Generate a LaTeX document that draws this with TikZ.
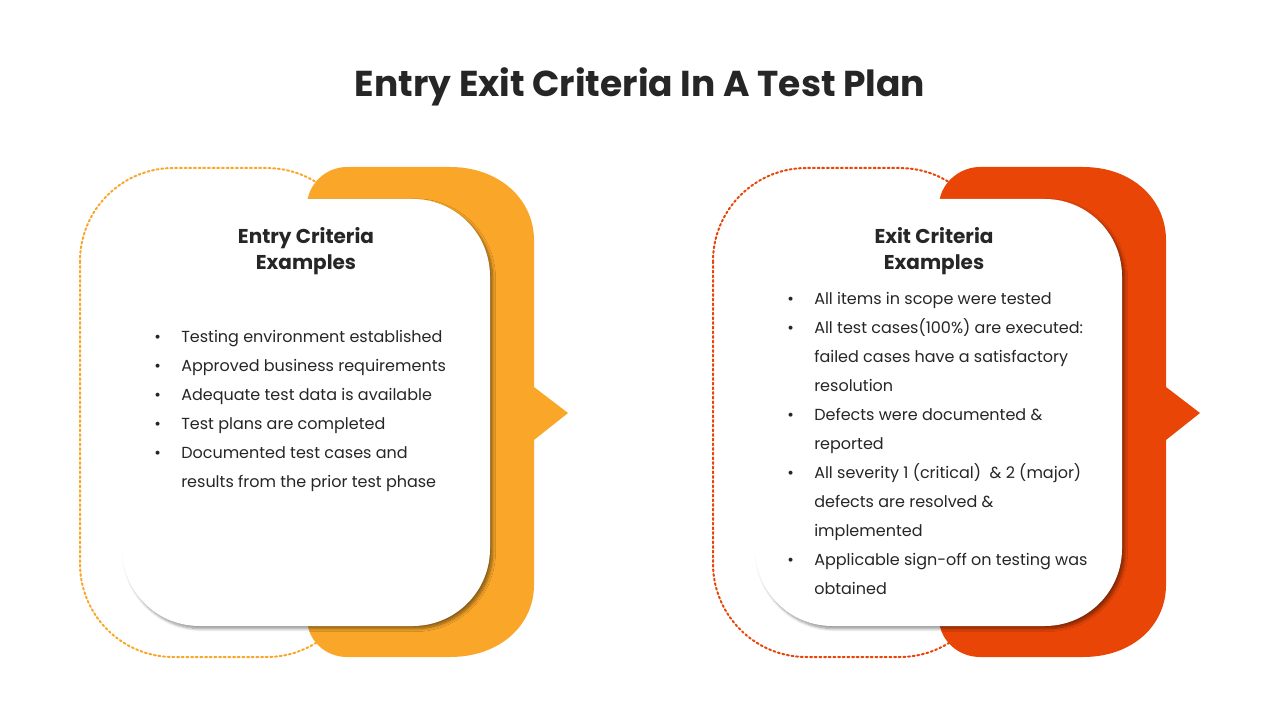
\documentclass[tikz,border=0pt]{standalone}
\usepackage{fontspec}
\setmainfont{Poppins}
\usetikzlibrary{shadows.blur}
\definecolor{entryorange}{RGB}{250,167,41}
\definecolor{exitred}{RGB}{232,69,7}
\definecolor{inktext}{RGB}{38,38,38}
\tikzset{
  card/.style={fill=white, rounded corners=58, blur shadow={shadow xshift=2pt, shadow yshift=-2pt, shadow blur steps=8, shadow opacity=45}},
  dotline/.style={line width=1.5pt, dotted, line cap=round, rounded corners=70},
  headtext/.style={font=\fontsize{15}{19.5}\selectfont\bfseries, text=inktext, align=center},
  listtext/.style={font=\fontsize{12}{21.75}\selectfont, text=inktext, align=left, anchor=north west, inner sep=0pt}
}
\newcommand{\bitem}[1]{\makebox[20.25pt][l]{\textbullet}#1\\}
\newcommand{\bcont}[1]{\hspace*{20.25pt}#1\\}
\begin{document}
\begin{tikzpicture}[x=0.75pt,y=-0.75pt]
\useasboundingbox (0,0) rectangle (1280,720);

% Title
\node[font=\fontsize{27}{32}\selectfont\bfseries, text=inktext] (title) at (640,87) {Entry Exit Criteria In A Test Plan};

% Entry panel
\draw[entryorange, dotline] (80,168) rectangle (360,657);
\fill[entryorange] (347,167) -- (450,167) .. controls (500,167) and (534,200) .. (534,240) -- (534,387) -- (568,413) -- (534,440) -- (534,585) .. controls (534,625) and (500,657) .. (450,657) -- (347,657) .. controls (325,657) and (307,640) .. (307,618) -- (307,206) .. controls (307,185) and (325,167) .. (347,167) -- cycle;
\path[card] (122,199) rectangle (490,626);
\node[headtext] (entryhead) at (306,251) {Entry Criteria\\Examples};
\node[listtext] (entrylist) at (154,330) {%
\bitem{Testing environment established}
\bitem{Approved business requirements}
\bitem{Adequate test data is available}
\bitem{Test plans are completed}
\bitem{Documented test cases and}
\bcont{results from the prior test phase}};

% Exit panel
\draw[exitred, dotline] (713,168) rectangle (993,657);
\fill[exitred] (980,167) -- (1083,167) .. controls (1133,167) and (1166,200) .. (1166,240) -- (1166,387) -- (1200,413) -- (1166,440) -- (1166,585) .. controls (1166,625) and (1133,657) .. (1083,657) -- (980,657) .. controls (958,657) and (939,640) .. (939,618) -- (939,206) .. controls (939,185) and (958,167) .. (980,167) -- cycle;
\path[card] (755,199) rectangle (1122,626);
\node[headtext] (exithead) at (934,251) {Exit Criteria\\Examples};
\node[listtext] (exitlist) at (787,292) {%
\bitem{All items in scope were tested}
\bitem{All test cases(100\%) are executed:}
\bcont{failed cases have a satisfactory}
\bcont{resolution}
\bitem{Defects were documented \&}
\bcont{reported}
\bitem{All severity 1 (critical)\ \ \& 2 (major)}
\bcont{defects are resolved \&}
\bcont{implemented}
\bitem{Applicable sign-off on testing was}
\bcont{obtained}};
\end{tikzpicture}
\end{document}
